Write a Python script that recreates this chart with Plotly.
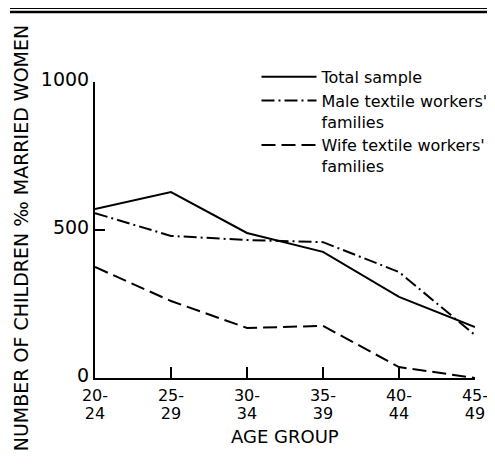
import plotly.graph_objects as go

age_line1 = ["20-", "25-", "30-", "35-", "40-", "45-"]
age_line2 = ["24", "29", "34", "39", "44", "49"]
x_pos = [0, 1, 2, 3, 4, 5]
total_sample = [571, 628, 490, 426, 274, 172]
male_textile = [557, 480, 466, 459, 358, 145]
wife_textile = [375, 260, 169, 176, 37, 0]
y_ticks = [0, 500, 1000]

FONT = "DejaVu Sans"
fig = go.Figure()
fig.add_trace(go.Scatter(x=x_pos, y=total_sample, mode="lines", name="Total sample",
                         line=dict(color="black", width=2, dash="solid")))
fig.add_trace(go.Scatter(x=x_pos, y=male_textile, mode="lines", name="Male textile workers'<br>families",
                         line=dict(color="black", width=2, dash="13px,4px,2px,4px")))
fig.add_trace(go.Scatter(x=x_pos, y=wife_textile, mode="lines", name="Wife textile workers'<br>families",
                         xaxis="x2", line=dict(color="black", width=2, dash="14px,6px")))

fig.update_layout(
    width=487, height=456,
    margin=dict(l=87, r=20, t=74, b=86, autoexpand=False),
    paper_bgcolor="white", plot_bgcolor="white",
    font=dict(family=FONT, color="black", size=16),
    showlegend=True,
    legend=dict(x=0.425, y=1.075, xanchor="left", yanchor="top", bgcolor="rgba(0,0,0,0)",
                font=dict(size=16), tracegroupgap=0, itemwidth=55, valign="top"),
    xaxis=dict(range=[0, 5], tickvals=x_pos, ticktext=age_line1, showgrid=False, zeroline=False,
               showline=True, linecolor="black", linewidth=2, ticks="inside", ticklen=11,
               tickcolor="black", tickwidth=1.5, tickfont=dict(size=16), ticklabelstandoff=2,
               automargin=False),
    xaxis2=dict(range=[0, 5], tickvals=x_pos, ticktext=age_line2, overlaying="x", anchor="y",
                side="bottom", showgrid=False, zeroline=False, showline=False, ticks="",
                tickfont=dict(size=16), ticklabelstandoff=24, automargin=False),
    yaxis=dict(range=[0, 1000], tickvals=y_ticks, ticktext=[str(v) for v in y_ticks],
               showgrid=False, zeroline=False, showline=True, linecolor="black", linewidth=2,
               ticks="inside", ticklen=10, tickcolor="black", tickwidth=1.5,
               tickfont=dict(size=19), ticklabelshift=-3, automargin=False),
)
fig.add_annotation(text="AGE GROUP", xref="paper", yref="paper", x=0.5, y=-0.199,
                   xanchor="center", yanchor="middle", showarrow=False, font=dict(size=18))
fig.add_annotation(text="NUMBER OF CHILDREN ‰ MARRIED WOMEN", textangle=-90,
                   xref="paper", yref="paper", x=-0.195, y=0.475, xanchor="center", yanchor="middle",
                   showarrow=False, font=dict(size=19))
fig.add_shape(type="line", xref="paper", yref="paper", x0=-0.2237, x1=1.039, y0=1.2483, y1=1.2483,
              line=dict(color="black", width=1))
fig.add_shape(type="line", xref="paper", yref="paper", x0=-0.2237, x1=1.039, y0=1.2365, y1=1.2365,
              line=dict(color="black", width=2.5))
fig.write_html("out.html")
